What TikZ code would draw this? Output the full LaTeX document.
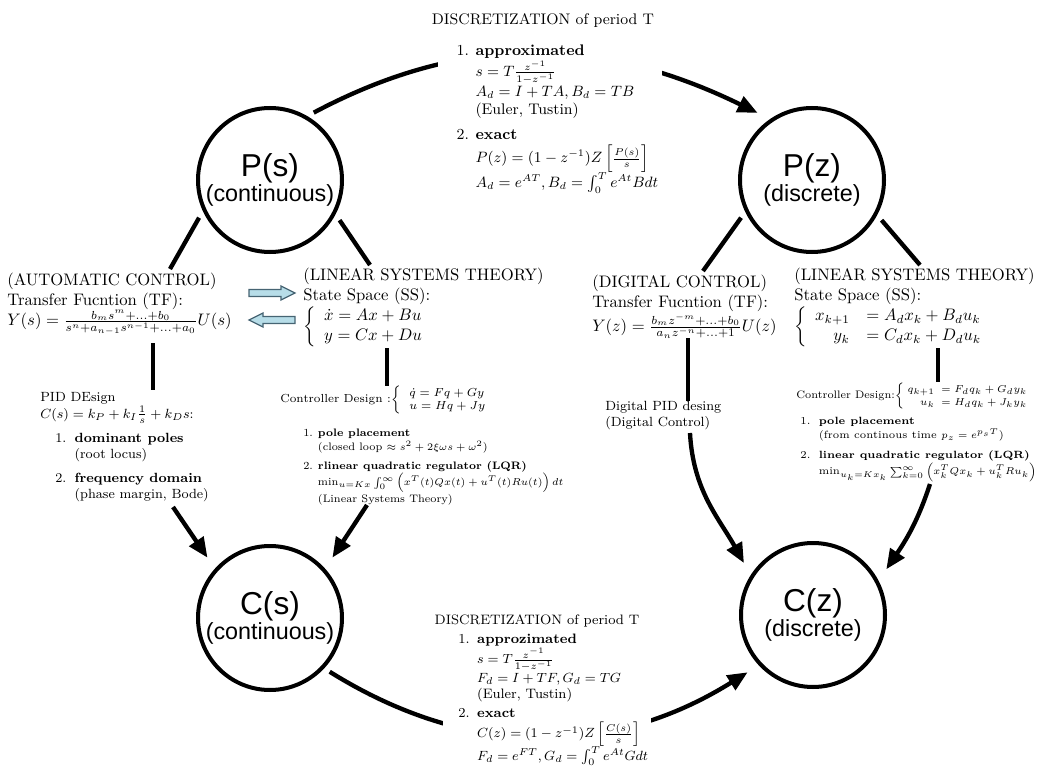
\documentclass[tikz,border=0pt]{standalone}
\usepackage{amsmath,amssymb}
\usepackage{fontspec}
\newfontfamily\circfont{Liberation Sans}
\usetikzlibrary{arrows.meta}
\definecolor{arrowfill}{RGB}{183,221,232}
\definecolor{arrowline}{RGB}{70,100,115}
\tikzset{
  sysnode/.style={circle, draw, line width=2.4pt, minimum size=86.4pt,
    inner sep=0pt, outer sep=5pt, align=center, font=\circfont},
  conn/.style={line width=2.6pt},
  arr/.style={conn, -{Triangle[length=12pt,width=10pt]}, shorten >=4pt},
  txt/.style={inner sep=0pt, anchor=north west, align=left},
  listbox/.style={inner sep=0pt, anchor=north west},
  blockarr/.style={draw=arrowline, fill=arrowfill, line width=0.8pt}
}
\newcommand{\circlabel}[2]{\fontsize{19}{21}\selectfont #1\\\fontsize{14}{16}\selectfont #2}

\begin{document}
\begin{tikzpicture}[x=0.6pt, y=0.6pt]
  \useasboundingbox (0,0) rectangle (1039,-769);

  % the four systems
  \node[sysnode] (Ps) at (270,-180) {\circlabel{P(s)}{(continuous)}};
  \node[sysnode] (Pz) at (812,-180) {\circlabel{P(z)}{(discrete)}};
  \node[sysnode] (Cs) at (270,-618) {\circlabel{C(s)}{(continuous)}};
  \node[sysnode] (Cz) at (813,-615) {\circlabel{C(z)}{(discrete)}};

  % discretization arcs (text boxes are put on top)
  \draw[arr] (Ps.57) to[out=28, in=154] (Pz.127);
  \draw[arr] (Cs.-42) to[out=-32, in=-148] (Cz.-138);

  % top: discretization of the plant
  \node[font=\fontsize{9.2}{11}\selectfont] (discTop) at (543,-20)
    {DISCRETIZATION of period T};
  \node[listbox, fill=white, font=\fontsize{9.2}{11}\selectfont] (discTopList) at (438,-42)
    {\begin{tabular}{@{\hspace{11pt}}l@{\hspace{4pt}}l@{\hspace{2pt}}}
      1. & \textbf{approximated}\\
         & $s = T\frac{z^{-1}}{1-z^{-1}}$\\
         & $A_d = I + TA, B_d = TB$\\
         & (Euler, Tustin)\\[4pt]
      2. & \textbf{exact}\\
         & $P(z) = (1-z^{-1})Z\left[\frac{P(s)}{s}\right]$\\
         & $A_d = e^{AT}, B_d = \int_0^T e^{At}Bdt$
    \end{tabular}};

  % continuous side
  \node[txt] (tfS) at (7,-273)
    {(AUTOMATIC CONTROL)\\ Transfer Fucntion (TF):\\
     $Y(s) = \frac{b_m s^m + \ldots + b_0}{s^n + a_{n-1}s^{n-1} + \ldots + a_0}U(s)$};
  \node[txt] (ssS) at (303,-268)
    {(LINEAR SYSTEMS THEORY)\\ State Space (SS):\\
     $\left\{\begin{array}{l} \dot{x} = Ax + Bu\\ y = Cx + Du \end{array}\right.$};
  \node[listbox, font=\footnotesize] (pidS) at (40,-390)
    {\begin{tabular}{@{\hspace{9pt}}l@{\hspace{5pt}}l@{}}
      \multicolumn{2}{@{}l@{}}{PID DEsign}\\
      \multicolumn{2}{@{}l@{}}{$C(s) = k_P + k_I\frac{1}{s} + k_D s$:}\\[5pt]
      1. & \textbf{dominant poles}\\
         & (root locus)\\[5pt]
      2. & \textbf{frequency domain}\\
         & (phase margin, Bode)
    \end{tabular}};
  \node[font=\scriptsize, anchor=west, inner sep=0pt] (ctrlS) at (280,-400)
    {Controller Design :$\left\{\begin{array}{l} \dot{q} = Fq + Gy\\ u = Hq + Jy \end{array}\right.$};
  \node[listbox, font=\fontsize{6.5}{8.2}\selectfont] (lqrS) at (303,-427)
    {\begin{tabular}{@{}l@{\hspace{3pt}}l@{}}
      1. & \textbf{pole placement}\\
         & (closed loop $\approx s^2 + 2\xi\omega s + \omega^2$)\\[3pt]
      2. & \textbf{rlinear quadratic regulator (LQR)}\\
         & $\min_{u=Kx}\int_0^\infty\left(x^T(t)Qx(t) + u^T(t)Ru(t)\right)dt$\\
         & (Linear Systems Theory)
    \end{tabular}};

  % discrete side
  \node[txt] (tfZ) at (592,-275)
    {(DIGITAL CONTROL)\\ Transfer Fucntion (TF):\\
     $Y(z) = \frac{b_m z^{-m} + \ldots + b_0}{a_n z^{-n} + \ldots + 1}U(z)$};
  \node[txt] (ssZ) at (794,-268)
    {(LINEAR SYSTEMS THEORY)\\ State Space (SS):\\
     $\left\{\begin{array}{rl} x_{k+1} &= A_d x_k + B_d u_k\\ y_k &= C_d x_k + D_d u_k \end{array}\right.$};
  \node[txt, font=\footnotesize] (pidZ) at (605,-401)
    {Digital PID desing\\ (Digital Control)};
  \node[font=\fontsize{6.5}{8}\selectfont, anchor=west, inner sep=0pt] (ctrlZ) at (796,-396)
    {\setlength{\arraycolsep}{2pt}Controller Design:$\left\{\begin{array}{rl} q_{k+1} &= F_d q_k + G_d y_k\\ u_k &= H_d q_k + J_k y_k \end{array}\right.$};
  \node[listbox, font=\fontsize{6.3}{8.1}\selectfont] (lqrZ) at (800,-415)
    {\begin{tabular}{@{}l@{\hspace{5pt}}l@{}}
      1. & \textbf{pole placement}\\
         & (from continous time $p_z = e^{p_s T}$)\\[4pt]
      2. & \textbf{linear quadratic regulator (LQR)}\\
         & $\min_{u_k=Kx_k}\sum_{k=0}^{\infty}\left(x_k^T Q x_k + u_k^T R u_k\right)$
    \end{tabular}};

  % bottom: discretization of the controller
  \node[font=\fontsize{8.2}{9.8}\selectfont] (discBot) at (537,-621)
    {DISCRETIZATION of period T};
  \node[listbox, fill=white, font=\fontsize{8.2}{9.6}\selectfont] (discBotList) at (443,-632)
    {\begin{tabular}{@{\hspace{9pt}}l@{\hspace{4.5pt}}l@{\hspace{2pt}}}
      1. & \textbf{approzimated}\\
         & $s = T\frac{z^{-1}}{1-z^{-1}}$\\
         & $F_d = I + TF, G_d = TG$\\
         & (Euler, Tustin)\\[2pt]
      2. & \textbf{exact}\\
         & $C(z) = (1-z^{-1})Z\left[\frac{C(s)}{s}\right]$\\
         & $F_d = e^{FT}, G_d = \int_0^T e^{At}Gdt$
    \end{tabular}};

  % TF <-> SS block arrows
  \draw[blockarr] (249,-289.5) -- (281,-289.5) -- (281,-286) -- (295,-293)
    -- (281,-300) -- (281,-296.5) -- (249,-296.5) -- cycle;
  \draw[blockarr] (295,-316.5) -- (263,-316.5) -- (263,-313) -- (249,-320)
    -- (263,-327) -- (263,-323.5) -- (295,-323.5) -- cycle;

  % plants to models
  \coordinate (tfShead) at (170,-269);
  \coordinate (ssShead) at (370,-265);
  \coordinate (tfZhead) at (703,-271);
  \coordinate (ssZhead) at (920,-265);
  \draw[conn] (Ps.208) -- (tfShead);
  \draw[conn] (Ps.330) -- (ssShead);
  \draw[conn] (Pz.208) -- (tfZhead);
  \draw[conn] (Pz.330) -- (ssZhead);

  % models to design methods
  \coordinate (tfSfoot) at (153,-343);
  \coordinate (ssSfoot) at (387,-348);
  \coordinate (tfZfoot) at (688,-338);
  \coordinate (ssZfoot) at (938,-348);
  \draw[conn] (tfSfoot) -- (tfSfoot |- pidS.north);
  \draw[conn] (ssSfoot) -- (ssSfoot |- ctrlS.north);
  \draw[conn] (tfZfoot) -- (tfZfoot |- pidZ.north);
  \draw[conn] (ssZfoot) -- (ssZfoot |- ctrlZ.north);

  % design methods to controllers
  \coordinate (pidSfoot) at (173,-507);
  \coordinate (lqrSfoot) at (367,-505);
  \coordinate (pidZfoot) at (690,-433);
  \coordinate (lqrZfoot) at (930,-484);
  \draw[arr] (pidSfoot) -- (Cs.137);
  \draw[arr] (lqrSfoot) -- (Cs.43);
  \draw[arr] (pidZfoot) to[out=-87, in=119] (Cz.145);
  \draw[arr] (lqrZfoot) to[out=-108, in=56] (Cz.30);
\end{tikzpicture}
\end{document}
